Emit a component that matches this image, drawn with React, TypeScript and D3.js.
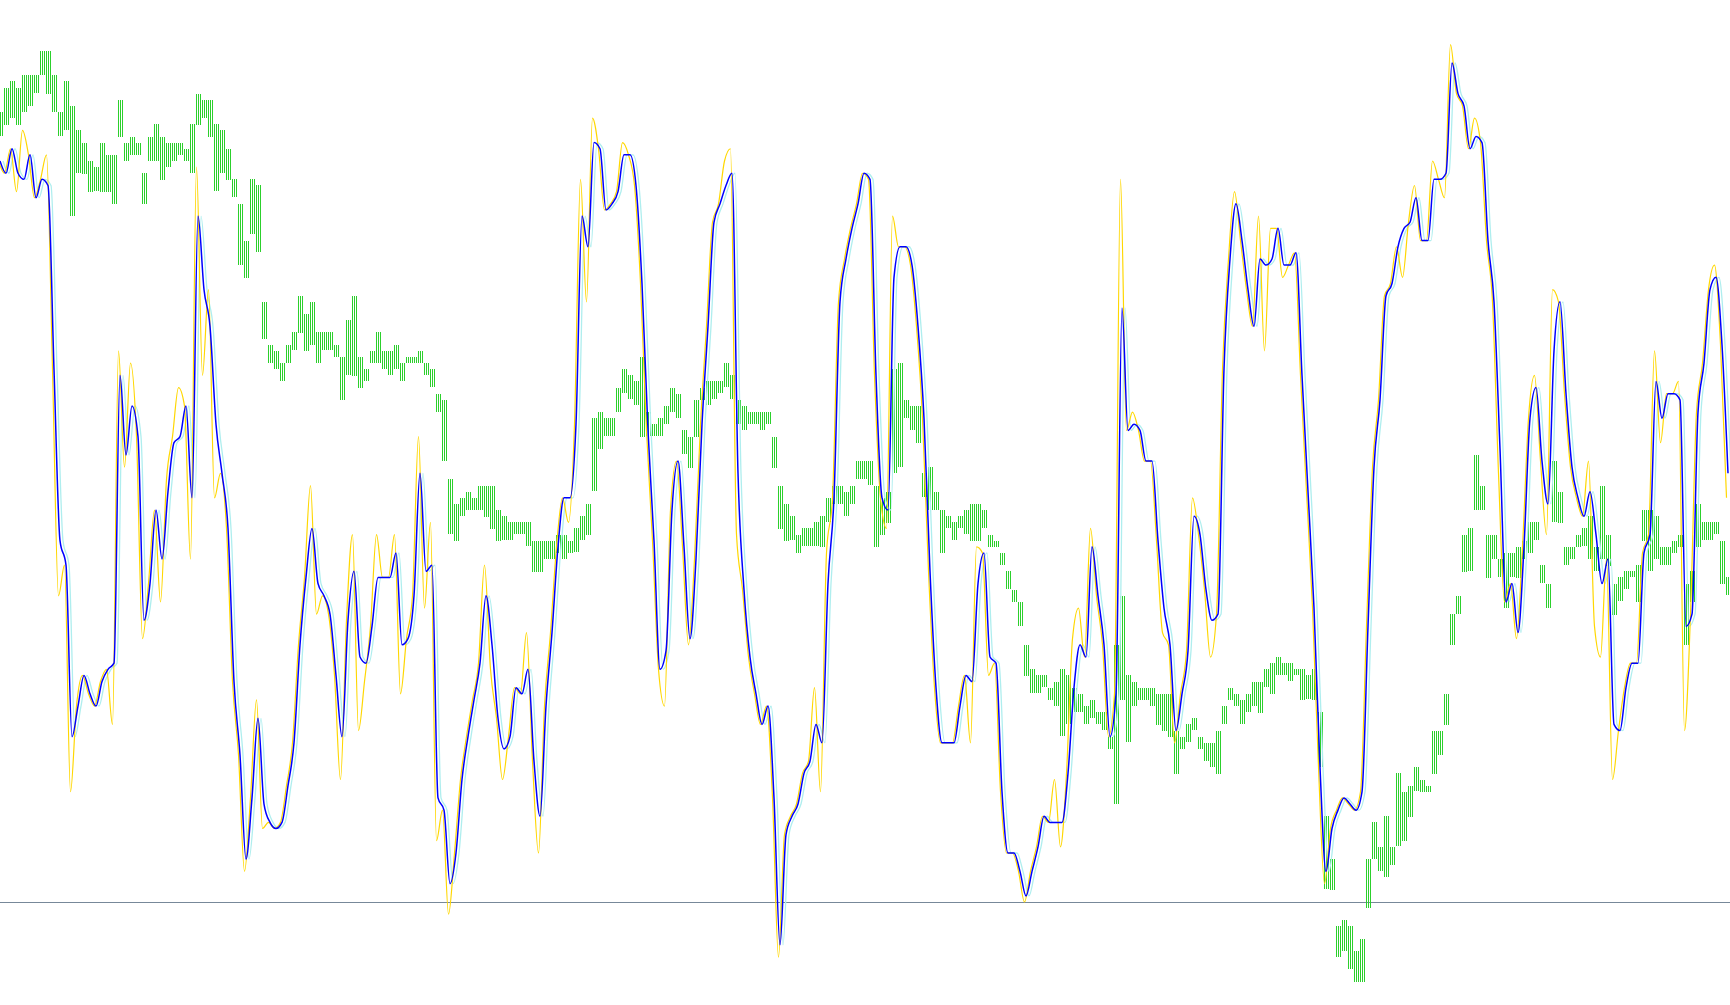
import { useEffect, useRef } from "react";
import * as d3 from "d3";

const W = 1730;
const H = 1005;

// fast line (gold)
const fastLine = [
  121, 119, 123, 116, 126, 122, 115, 118, 122, 87,
  50, 55, 18, 32, 37, 34, 32, 36, 38, 29,
  90, 71, 88, 76, 43, 52, 64, 49, 69, 76,
  84, 81, 56, 120, 86, 100, 66, 70, 61, 36,
  24, 5, 17, 33, 12, 13, 12, 13, 19, 26,
  42, 53, 68, 47, 50, 47, 37, 20, 46, 60,
  28, 36, 45, 60, 53, 53, 60, 34, 43, 50,
  76, 48, 62, 10, 15, -2, 8, 20, 27, 33,
  39, 55, 38, 30, 20, 27, 35, 34, 44, 23,
  8, 32, 44, 58, 66, 62, 78, 118, 98, 128,
  123, 113, 114, 116, 124, 122, 117, 101, 77, 59,
  38, 32, 64, 72, 58, 42, 56, 78, 94, 111,
  114, 121, 123, 60, 51, 40, 34, 29, 32, 17,
  -9, 11, 14, 16, 21, 23, 35, 18, 57, 66,
  98, 105, 110, 114, 119, 118, 86, 66, 61, 112,
  107, 107, 104, 94, 79, 54, 35, 26, 26, 26,
  32, 37, 26, 58, 57, 37, 39, 18, 8, 8,
  5, 0, 5, 9, 14, 13, 20, 9, 21, 43,
  48, 40, 61, 50, 42, 27, 34, 118, 77, 80,
  77, 72, 72, 59, 44, 42, 26, 34, 41, 66,
  60, 51, 40, 47, 87, 105, 116, 108, 100, 94,
  112, 90, 110, 110, 102, 104, 106, 86, 67, 48,
  22, 3, 12, 15, 17, 16, 15, 18, 45, 71,
  82, 99, 101, 107, 102, 111, 117, 108, 108, 121,
  118, 115, 140, 132, 130, 123, 128, 124, 108, 98,
  70, 49, 52, 43, 58, 79, 86, 72, 60, 100,
  98, 83, 71, 66, 63, 72, 45, 40, 56, 20,
  28, 35, 39, 39, 57, 60, 90, 75, 83, 83,
  85, 28, 47, 80, 88, 100, 104, 91, 66,
];

// main line (blue)
const mainLine = [
  121, 119, 123, 119, 118, 122, 115, 118, 117, 87,
  59, 55, 27, 32, 37, 34, 32, 36, 38, 39,
  86, 73, 81, 76, 46, 52, 64, 56, 67, 75,
  76, 81, 66, 112, 100, 94, 78, 70, 61, 36,
  24, 7, 17, 30, 16, 13, 12, 13, 19, 26,
  42, 53, 61, 52, 50, 47, 37, 27, 46, 54,
  40, 39, 45, 53, 53, 53, 57, 42, 43, 50,
  70, 54, 55, 17, 15, 3, 8, 20, 27, 33,
  39, 50, 42, 30, 25, 27, 35, 34, 38, 23,
  14, 32, 44, 58, 66, 66, 78, 112, 107, 124,
  123, 113, 114, 116, 122, 122, 117, 101, 77, 59,
  38, 41, 64, 72, 58, 43, 56, 78, 94, 111,
  114, 117, 119, 70, 51, 40, 34, 29, 32, 17,
  -7, 11, 14, 16, 21, 23, 29, 26, 52, 66,
  98, 105, 110, 114, 119, 118, 86, 66, 64, 102,
  107, 107, 104, 94, 79, 54, 35, 26, 26, 26,
  32, 37, 36, 52, 57, 40, 39, 18, 8, 8,
  5, 1, 5, 9, 14, 13, 13, 13, 21, 35,
  42, 40, 58, 50, 42, 27, 34, 97, 77, 78,
  77, 72, 72, 59, 48, 42, 28, 34, 41, 63,
  60, 51, 46, 47, 87, 105, 114, 108, 100, 94,
  105, 104, 105, 110, 104, 104, 106, 86, 67, 48,
  22, 5, 12, 15, 17, 16, 15, 18, 45, 71,
  82, 99, 101, 107, 110, 111, 115, 108, 108, 118,
  118, 119, 137, 132, 130, 123, 125, 124, 108, 98,
  74, 49, 52, 44, 58, 79, 84, 72, 65, 90,
  98, 83, 71, 66, 63, 67, 60, 52, 56, 29,
  28, 35, 39, 39, 57, 60, 85, 79, 83, 83,
  82, 45, 47, 80, 88, 100, 102, 91, 70,
];

// histogram bars (green), high / low
const barHigh = [
  129, 133, 134, 133, 135, 135, 135, 139, 139, 135,
  129, 134, 130, 126, 124, 121, 120, 124, 122, 122,
  131, 124, 125, 124, 119, 125, 127, 125, 124, 124,
  124, 123, 127, 132, 131, 131, 127, 126, 123, 118,
  114, 108, 118, 117, 98, 91, 90, 88, 91, 93,
  99, 96, 98, 93, 93, 93, 91, 89, 95, 99,
  89, 87, 90, 93, 90, 90, 91, 88, 89, 89,
  90, 88, 87, 83, 82, 69, 65, 66, 67, 66,
  68, 68, 68, 64, 63, 62, 62, 62, 62, 59,
  59, 59, 59, 60, 60, 59, 61, 63, 65, 79,
  80, 79, 79, 84, 87, 86, 85, 89, 80, 78,
  79, 81, 84, 83, 77, 76, 82, 84, 85, 85,
  85, 88, 86, 82, 81, 80, 80, 80, 80, 76,
  68, 65, 63, 60, 61, 61, 62, 63, 66, 68,
  68, 67, 68, 72, 72, 72, 68, 66, 67, 87,
  88, 82, 81, 81, 70, 71, 67, 64, 63, 62,
  63, 64, 65, 65, 64, 60, 59, 57, 54, 51,
  49, 42, 38, 37, 37, 35, 36, 38, 37, 35,
  34, 32, 33, 31, 31, 27, 42, 50, 37, 36,
  35, 35, 35, 34, 34, 34, 28, 27, 29, 30,
  27, 26, 26, 28, 32, 35, 34, 33, 34, 36,
  36, 38, 39, 40, 39, 39, 38, 38, 37, 38,
  31, 14, 7, -4, -3, -4, -8, -6, 7, 13,
  9, 14, 9, 21, 18, 19, 22, 20, 19, 28,
  28, 34, 47, 50, 60, 61, 73, 68, 60, 60,
  56, 57, 57, 58, 59, 62, 62, 55, 52, 72,
  67, 58, 58, 60, 61, 63, 58, 68, 60, 52,
  53, 54, 54, 55, 64, 64, 63, 58, 58, 59,
  60, 52, 54, 65, 62, 62, 62, 59, 53,
];

const barLow = [
  125, 127, 128, 127, 129, 130, 132, 135, 132, 129,
  125, 126, 112, 119, 119, 116, 116, 116, 116, 114,
  125, 121, 122, 122, 114, 121, 121, 118, 120, 121,
  122, 121, 119, 127, 128, 125, 116, 119, 118, 115,
  104, 102, 109, 106, 92, 88, 87, 85, 88, 90,
  93, 90, 91, 88, 90, 90, 89, 82, 86, 86,
  84, 85, 88, 88, 87, 86, 87, 85, 88, 88,
  88, 86, 84, 80, 72, 60, 59, 63, 64, 64,
  64, 63, 61, 59, 59, 59, 60, 60, 58, 54,
  54, 56, 56, 57, 56, 57, 57, 59, 60, 67,
  74, 76, 76, 80, 83, 82, 81, 76, 76, 76,
  76, 78, 80, 79, 73, 71, 76, 82, 81, 82,
  83, 84, 82, 78, 77, 78, 78, 77, 78, 71,
  61, 59, 59, 57, 58, 58, 58, 58, 62, 65,
  65, 63, 65, 69, 69, 68, 58, 60, 62, 70,
  71, 79, 77, 75, 66, 64, 64, 57, 61, 59,
  61, 60, 59, 59, 61, 58, 58, 55, 51, 49,
  45, 37, 34, 34, 35, 33, 32, 27, 29, 31,
  31, 29, 30, 29, 28, 25, 16, 33, 26, 32,
  33, 33, 32, 29, 28, 27, 21, 25, 26, 28,
  25, 23, 22, 21, 29, 33, 32, 29, 31, 32,
  31, 35, 34, 37, 37, 36, 37, 33, 33, 33,
  22, 2, 2, -9, -8, -11, -13, -13, -1, 7,
  5, 4, 6, 9, 10, 14, 18, 18, 18, 21,
  24, 29, 42, 47, 54, 54, 64, 64, 53, 56,
  53, 48, 53, 53, 56, 57, 59, 52, 48, 62,
  62, 55, 56, 58, 58, 56, 54, 56, 55, 47,
  49, 51, 53, 49, 59, 54, 56, 55, 55, 57,
  58, 42, 49, 58, 59, 59, 60, 52, 50,
];

const zeroLevel = 0;

export default function App() {
  const svgRef = useRef<SVGSVGElement>(null);

  useEffect(() => {
    document.body.style.margin = "0";
    if (!svgRef.current) return;
    const svg = d3.select(svgRef.current);
    svg.selectAll("*").remove();

    const x = d3.scaleLinear().domain([0, mainLine.length - 1]).range([0, 1728]);
    const y = d3.scaleLinear().domain([0, 100]).range([902, 289.6]);

    svg
      .append("line")
      .attr("x1", 0)
      .attr("x2", W)
      .attr("y1", Math.round(y(zeroLevel)) + 0.5)
      .attr("y2", Math.round(y(zeroLevel)) + 0.5)
      .attr("stroke", "#778899")
      .attr("stroke-width", 1);

    // Bars: each value drawn as a cluster of 1px sticks, terminal style
    const bars = svg
      .append("g")
      .attr("shape-rendering", "crispEdges")
      .selectAll("g")
      .data(barHigh.map((hi, i) => ({ i, hi, lo: barLow[i] })))
      .join("g")
      .attr("transform", (d) => `translate(${Math.round(x(d.i))},0)`);

    bars
      .selectAll("rect")
      .data((d) => [-2, 0, 2].map((dx) => ({ ...d, dx })))
      .join("rect")
      .attr("x", (d) => d.dx)
      .attr("y", (d) => Math.round(y(d.hi)))
      .attr("width", 1)
      .attr("height", (d) => Math.max(2, Math.round(y(d.lo) - y(d.hi))))
      .attr("fill", "#2cd02c");

    const line = d3
      .line<number>()
      .x((_d, i) => x(i))
      .y((d) => y(d))
      .curve(d3.curveMonotoneX);

    // signal (lagging copy of the main line)
    svg
      .append("path")
      .attr("d", line(mainLine))
      .attr("transform", "translate(3,0)")
      .attr("fill", "none")
      .attr("stroke", "#afeeee")
      .attr("stroke-width", 1.3);

    svg
      .append("path")
      .attr("d", line(fastLine))
      .attr("transform", "translate(-1.5,0)")
      .attr("fill", "none")
      .attr("stroke", "#ffd700")
      .attr("stroke-width", 1.2);

    svg
      .append("path")
      .attr("d", line(mainLine))
      .attr("fill", "none")
      .attr("stroke", "#0000ff")
      .attr("stroke-width", 1.5);
  }, []);

  return <svg ref={svgRef} width={W} height={H} style={{ display: "block", background: "#ffffff" }} />;
}
